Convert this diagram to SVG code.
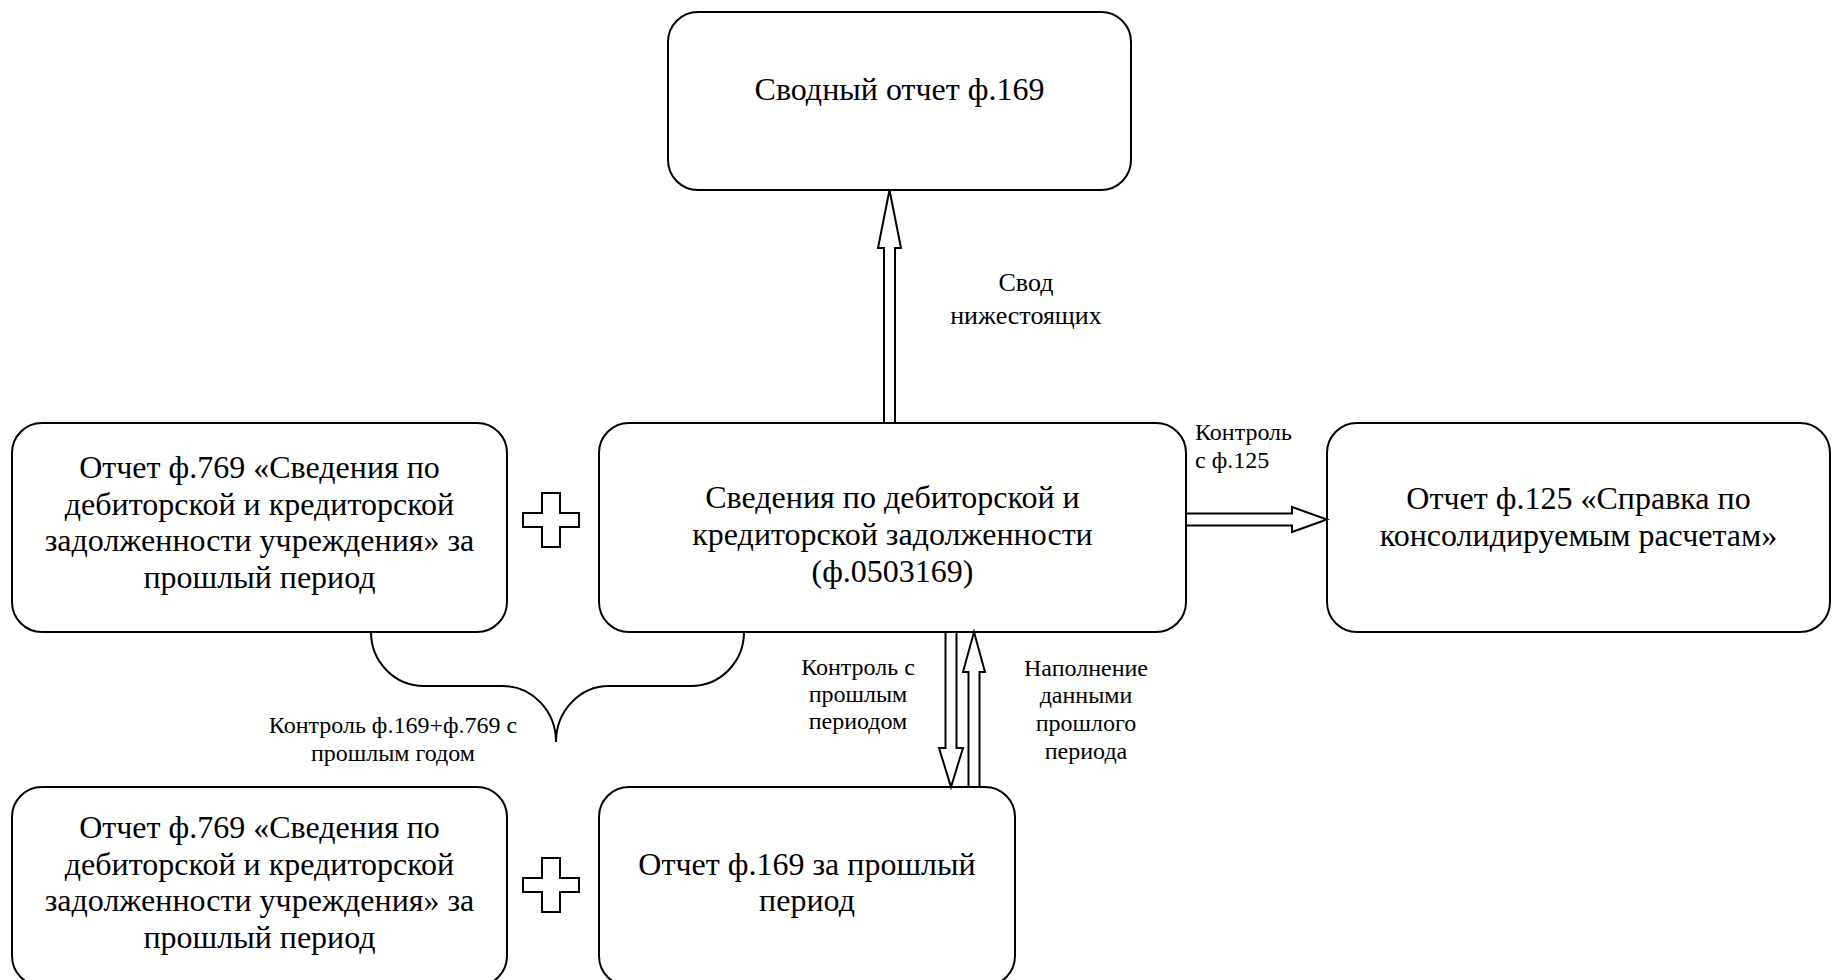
<svg xmlns="http://www.w3.org/2000/svg" width="1832" height="980" viewBox="0 0 1832 980">
  <style>
    .box { fill: #ffffff; stroke: #000000; stroke-width: 2; }
    .t { font-family: "Liberation Serif", "Times New Roman", serif; font-size: 32px; fill: #000000; text-anchor: middle; }
    .lbl { font-family: "Liberation Serif", "Times New Roman", serif; font-size: 24px; fill: #000000; text-anchor: middle; }
    .lbl-l { text-anchor: start; }
    .arrow { fill: #ffffff; stroke: #000000; stroke-width: 2; stroke-linejoin: miter; }
    .brace { fill: none; stroke: #000000; stroke-width: 2; }
    .plus { fill: #ffffff; stroke: #000000; stroke-width: 2; }
  </style>
  <rect x="0" y="0" width="1832" height="980" fill="#ffffff"/>

  <g id="node-summary">
    <rect class="box" x="668" y="12" width="463" height="178" rx="30" ry="30"/>
    <text class="t" x="899.5" y="100">Сводный отчет ф.169</text>
  </g>

  <g id="node-f769-top">
    <rect class="box" x="12" y="423" width="495" height="209" rx="30" ry="30"/>
    <text class="t" x="259.5" y="478">Отчет ф.769 «Сведения по</text>
    <text class="t" x="259.5" y="515">дебиторской и кредиторской</text>
    <text class="t" x="259.5" y="551">задолженности учреждения» за</text>
    <text class="t" x="259.5" y="588">прошлый период</text>
  </g>

  <g id="node-f169-current">
    <rect class="box" x="599" y="423" width="587" height="209" rx="30" ry="30"/>
    <text class="t" x="892.5" y="508">Сведения по дебиторской и</text>
    <text class="t" x="892.5" y="545">кредиторской задолженности</text>
    <text class="t" x="892.5" y="582">(ф.0503169)</text>
  </g>

  <g id="node-f125">
    <rect class="box" x="1327" y="423" width="503" height="209" rx="30" ry="30"/>
    <text class="t" x="1578.5" y="509">Отчет ф.125 «Справка по</text>
    <text class="t" x="1578.5" y="546">консолидируемым расчетам»</text>
  </g>

  <g id="node-f769-bottom">
    <rect class="box" x="12" y="787" width="495" height="199" rx="30" ry="30"/>
    <text class="t" x="259.5" y="838">Отчет ф.769 «Сведения по</text>
    <text class="t" x="259.5" y="875">дебиторской и кредиторской</text>
    <text class="t" x="259.5" y="911">задолженности учреждения» за</text>
    <text class="t" x="259.5" y="948">прошлый период</text>
  </g>

  <g id="node-f169-prev">
    <rect class="box" x="599" y="787" width="416" height="199" rx="30" ry="30"/>
    <text class="t" x="807" y="875">Отчет ф.169 за прошлый</text>
    <text class="t" x="807" y="911">период</text>
  </g>

  <g id="operators">
    <polygon class="plus" points="542,493 560,493 560,513 579,513 579,527 560,527 560,547 542,547 542,527 523,527 523,513 542,513"/>
    <polygon class="plus" points="542,858 560,858 560,878 579,878 579,892 560,892 560,912 542,912 542,892 523,892 523,878 542,878"/>
  </g>

  <g id="connectors">
    <polygon class="arrow" points="884,423 884,248 878,248 889.5,190 901,248 895,248 895,423"/>
    <polygon class="arrow" points="1186,513.5 1292,513.5 1292,507 1327,519.5 1292,532 1292,525.5 1186,525.5"/>
    <polygon class="arrow" points="945.5,632 945.5,748 939,748 951,787 963,748 956.5,748 956.5,632"/>
    <polygon class="arrow" points="968.5,787 968.5,672 963,672 974,632 985,672 979.5,672 979.5,787"/>
    <path class="brace" d="M 371 632 A 53 54 0 0 0 424 686 L 503 686 A 53 56 0 0 1 556 742 A 53 56 0 0 1 609 686 L 691 686 A 53 54 0 0 0 744 632"/>

    <text class="lbl" x="1026" y="291" style="font-size:26px">Свод</text>
    <text class="lbl" x="1026" y="324" style="font-size:26px">нижестоящих</text>

    <text class="lbl lbl-l" x="1195" y="440">Контроль</text>
    <text class="lbl lbl-l" x="1195" y="468">с ф.125</text>

    <text class="lbl" x="858" y="675">Контроль с</text>
    <text class="lbl" x="858" y="702">прошлым</text>
    <text class="lbl" x="858" y="729">периодом</text>

    <text class="lbl" x="1086" y="676">Наполнение</text>
    <text class="lbl" x="1086" y="703">данными</text>
    <text class="lbl" x="1086" y="731">прошлого</text>
    <text class="lbl" x="1086" y="759">периода</text>

    <text class="lbl" x="393" y="733">Контроль ф.169+ф.769 с</text>
    <text class="lbl" x="393" y="761">прошлым годом</text>
  </g>
</svg>
